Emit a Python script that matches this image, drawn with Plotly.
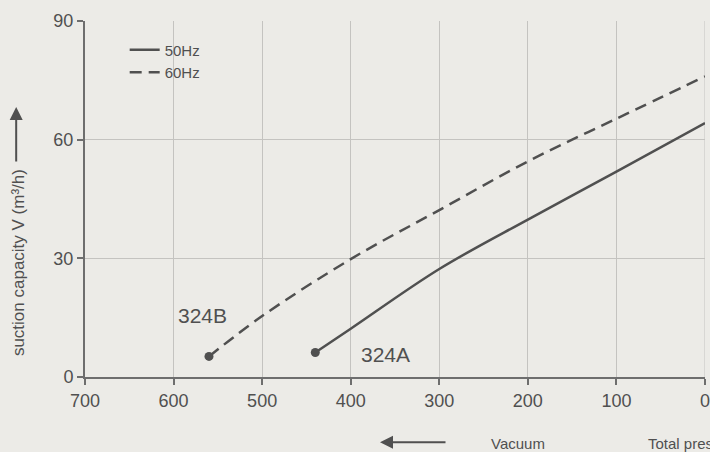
import plotly.graph_objects as go

# Data
p50 = [440, 400, 300, 200, 100, 0]
v50 = [6.2, 12.2, 27.3, 39.8, 51.9, 64.2]
p60 = [560, 500, 400, 300, 200, 100, 0]
v60 = [5.2, 15.4, 29.8, 42.2, 54.5, 65.3, 76.0]
x_ticks = [700, 600, 500, 400, 300, 200, 100, 0]
y_ticks = [0, 30, 60, 90]

BG = "#ecebe7"
INK = "#505050"
GRID = "#c4c3c0"
FONT = "Liberation Sans"

fig = go.Figure()
fig.add_trace(go.Scatter(
    x=p50, y=v50, mode="lines", name="50Hz",
    line=dict(color=INK, width=2.5), line_shape="spline",
))
fig.add_trace(go.Scatter(
    x=p60, y=v60, mode="lines", name="60Hz",
    line=dict(color=INK, width=2.5, dash="12px,7px"), line_shape="spline",
))
# start-point dots
fig.add_trace(go.Scatter(
    x=[p50[0], p60[0]], y=[v50[0], v60[0]], mode="markers",
    marker=dict(color=INK, size=9), showlegend=False, hoverinfo="skip",
))

fig.update_layout(
    width=710, height=452,
    paper_bgcolor=BG, plot_bgcolor=BG,
    margin=dict(l=85, r=5, t=21, b=75, autoexpand=False),
    font=dict(family=FONT, color=INK),
    showlegend=True,
    legend=dict(x=0.064, y=0.965, xanchor="left", yanchor="top",
                bgcolor="rgba(0,0,0,0)", font=dict(size=15, color=INK),
                tracegroupgap=0),
    xaxis=dict(
        range=[700, 0], tickvals=x_ticks, ticktext=[str(t) for t in x_ticks],
        showgrid=True, gridcolor=GRID, gridwidth=1,
        showline=True, linecolor="#6e6e6e", linewidth=2,
        ticks="outside", ticklen=6, tickcolor="#6e6e6e", tickwidth=2,
        tickfont=dict(size=18, color=INK), zeroline=False,
        ticklabeloverflow="allow", automargin=False,
    ),
    yaxis=dict(
        range=[0, 90], tickvals=y_ticks,
        showgrid=True, gridcolor=GRID, gridwidth=1,
        showline=True, linecolor="#6e6e6e", linewidth=2,
        ticks="outside", ticklen=6, tickcolor="#6e6e6e", tickwidth=2,
        tickfont=dict(size=18, color=INK), zeroline=False, automargin=False,
    ),
)

# right-edge gridline at x = 0
fig.add_shape(type="line", xref="x", yref="paper", x0=0, x1=0, y0=0, y1=1,
              line=dict(color=GRID, width=1), layer="below")

# curve labels
fig.add_annotation(x=567, y=15.6, xref="x", yref="y", text="324B",
                   showarrow=False, font=dict(size=21, color=INK))
fig.add_annotation(x=361, y=5.6, xref="x", yref="y", text="324A",
                   showarrow=False, font=dict(size=21, color=INK))

# y-axis title with upward arrow
fig.add_annotation(x=-0.108, y=0.32, xref="paper", yref="paper",
                   xanchor="center", yanchor="middle",
                   text="suction capacity V (m³/h)", textangle=-90,
                   showarrow=False, font=dict(size=17, color=INK))
fig.add_annotation(x=-0.111, y=(377 - 107) / 356, xref="paper", yref="paper",
                   ax=0, ay=56, text="", showarrow=True, arrowhead=2,
                   arrowsize=1.3, arrowwidth=2, arrowcolor=INK)

# bottom direction notes
fig.add_annotation(x=(380 - 85) / 620, y=-0.183, xref="paper", yref="paper",
                   ax=67, ay=0, text="", showarrow=True, arrowhead=2,
                   arrowsize=1.3, arrowwidth=2, arrowcolor=INK)
fig.add_annotation(x=(518 - 85) / 620, y=-0.188, xref="paper", yref="paper",
                   xanchor="center", yanchor="middle",
                   text="Vacuum", showarrow=False, font=dict(size=15, color=INK))
fig.add_annotation(x=(646 - 85) / 620, y=-0.188, xref="paper", yref="paper",
                   yanchor="middle",
                   text="Total pressure", xanchor="left", showarrow=False,
                   font=dict(size=15, color=INK))

fig.write_html(
    "out.html",
    config={"displayModeBar": False},
    post_script="document.body.style.margin='0';document.body.style.padding='0';",
)
